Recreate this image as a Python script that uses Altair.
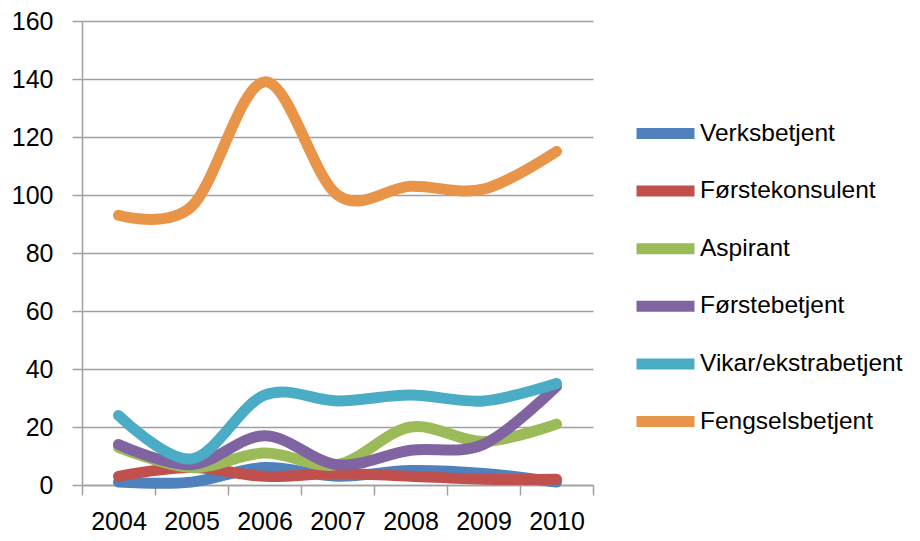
import altair as alt
import pandas as pd

years = ["2004", "2005", "2006", "2007", "2008", "2009", "2010"]
series_names = ["Verksbetjent", "Førstekonsulent", "Aspirant", "Førstebetjent",
                "Vikar/ekstrabetjent", "Fengselsbetjent"]
verksbetjent = [1, 1, 6, 3, 5, 4, 1]
forstekonsulent = [3, 6, 3, 4, 3, 2, 2]
aspirant = [13, 6, 11, 7, 20, 15, 21]
forstebetjent = [14, 7, 17, 7, 12, 14, 34]
vikar = [24, 9, 31, 29, 31, 29, 35]
fengselsbetjent = [93, 96, 139, 100, 103, 102, 115]
colors = ["#4F81BD", "#C0504D", "#9BBB59", "#8064A2", "#4BACC6", "#E8954A"]

all_values = [verksbetjent, forstekonsulent, aspirant, forstebetjent, vikar, fengselsbetjent]
rows = []
for i, (name, vals) in enumerate(zip(series_names, all_values)):
    for y, v in zip(years, vals):
        rows.append({"Year": y, "Value": v, "Series": name, "order": i})
df = pd.DataFrame(rows)

FONT = "Liberation Sans"

chart = alt.Chart(df).mark_line(
    interpolate="cardinal", strokeWidth=11, strokeCap="round", strokeJoin="round"
).encode(
    x=alt.X("Year:N", sort=years,
            scale=alt.Scale(type="band", paddingInner=0, paddingOuter=0),
            axis=alt.Axis(title=None, labelAngle=0, tickBand="extent", grid=False,
                          tickSize=10, labelPadding=14, labelFontSize=25,
                          labelFont=FONT, labelColor="#000000",
                          domainColor="#A0A0A0", tickColor="#A0A0A0",
                          domainWidth=1.5, tickWidth=1.5)),
    y=alt.Y("Value:Q", scale=alt.Scale(domain=[0, 160], nice=False),
            axis=alt.Axis(title=None, values=[0, 20, 40, 60, 80, 100, 120, 140, 160],
                          tickSize=10, labelPadding=19, labelFontSize=25,
                          labelFont=FONT, labelColor="#000000",
                          domainColor="#A0A0A0", tickColor="#A0A0A0",
                          gridColor="#A0A0A0", gridWidth=1.5,
                          domainWidth=1.5, tickWidth=1.5)),
    color=alt.Color("Series:N", sort=series_names,
                    scale=alt.Scale(domain=series_names, range=colors),
                    legend=alt.Legend(title=None, orient="none",
                                      legendX=549, legendY=78,
                                      symbolType="stroke", symbolSize=3364,
                                      symbolStrokeWidth=11, labelOffset=0,
                                      rowPadding=0.6, labelFontSize=24.5,
                                      labelFont=FONT, labelColor="#000000",
                                      labelLimit=400)),
    order=alt.Order("order:Q"),
).properties(
    width=511, height=464,
    autosize=alt.AutoSizeParams(type="none"),
    padding={"left": 74, "top": 13, "right": 319, "bottom": 52},
).configure_view(stroke=None)

chart.save("out.html", embed_options={"renderer": "svg", "actions": False})
